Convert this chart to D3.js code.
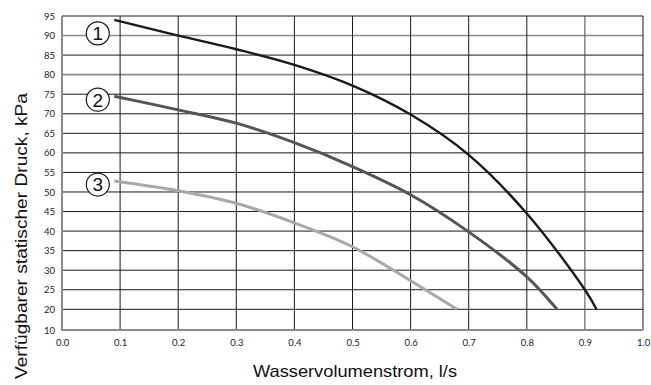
<!DOCTYPE html>
<html>
<head>
<meta charset="utf-8">
<script src="https://cdn.jsdelivr.net/npm/d3@7"></script>
<style>
  html, body { margin: 0; padding: 0; background: #fff; }
  svg { display: block; }
  .tick text { font-family: Lato, "Open Sans", sans-serif; font-size: 9.5px; fill: #222; }
  .title { font-family: "Liberation Sans", Arial, sans-serif; font-size: 17px; fill: #111; }
</style>
</head>
<body>
<svg id="chart" width="651" height="385"></svg>
<script>
// Pump curves: available static pressure vs. water flow
const flowTicks = [0.0, 0.1, 0.2, 0.3, 0.4, 0.5, 0.6, 0.7, 0.8, 0.9, 1.0];
const pressureTicks = [10, 20, 25, 30, 35, 40, 45, 50, 55, 60, 65, 70, 75, 80, 85, 90, 95];

const curve1Flow = [0.09, 0.2, 0.3, 0.4, 0.5, 0.6, 0.7, 0.8, 0.9, 0.92];
const curve1Pressure = [94, 90, 86.5, 82.5, 77.2, 69.8, 59.5, 44.5, 25, 20];

const curve2Flow = [0.09, 0.2, 0.3, 0.4, 0.5, 0.6, 0.7, 0.8, 0.852];
const curve2Pressure = [74.5, 71, 67.6, 62.6, 56.5, 49.3, 39.8, 28.3, 20];

const curve3Flow = [0.09, 0.2, 0.3, 0.4, 0.5, 0.6, 0.68];
const curve3Pressure = [52.8, 50.3, 47.1, 42.1, 36, 27.3, 20];

const curveLabels = ["1", "2", "3"];
const curveColors = ["#1a1a1a", "#555555", "#a8a8a8"];

const svg = d3.select("#chart");
const plotLeft = 62, plotRight = 643, plotTop = 16, plotBottom = 330;

const x = d3.scaleLinear().domain([0, 1]).range([plotLeft, plotRight]);
// The axis is broken below 20: the 10 mark sits one grid step under 20
const y = d3.scaleLinear().domain([10, 20, 95]).range([plotBottom, 309.3, plotTop]);

const grid = svg.append("g");
// horizontal grid lines
pressureTicks.filter(v => v > 10).forEach(v => {
  const grey = (v === 90 || v === 80);
  grid.append("line")
    .attr("x1", plotLeft).attr("x2", plotRight)
    .attr("y1", y(v)).attr("y2", y(v))
    .attr("stroke", grey ? "#8a8a8a" : "#1a1a1a")
    .attr("stroke-width", grey ? 1.6 : 1);
});
// vertical grid lines
flowTicks.filter(v => v > 0).forEach(v => {
  const grey = (v === 0.9);
  grid.append("line")
    .attr("x1", x(v)).attr("x2", x(v))
    .attr("y1", plotTop).attr("y2", plotBottom)
    .attr("stroke", grey ? "#555" : "#1a1a1a")
    .attr("stroke-width", grey ? 1.1 : 1);
});

// axes
const xAxis = d3.axisBottom(x).tickValues(flowTicks).tickFormat(d3.format(".1f")).tickSize(0).tickPadding(9);
const gx = svg.append("g").attr("transform", `translate(0,${plotBottom})`).call(xAxis);
gx.select(".domain").remove();

const yAxis = d3.axisLeft(y).tickValues(pressureTicks).tickFormat(d3.format("d")).tickSize(0).tickPadding(7);
const gy = svg.append("g").attr("transform", `translate(${plotLeft},0)`).call(yAxis);
gy.select(".domain").remove();

// frame: grey left and bottom axis lines
svg.append("line").attr("x1", plotLeft).attr("x2", plotLeft).attr("y1", plotTop).attr("y2", plotBottom + 1)
  .attr("stroke", "#8a8a8a").attr("stroke-width", 2);
svg.append("line").attr("x1", plotLeft).attr("x2", plotRight).attr("y1", plotBottom).attr("y2", plotBottom)
  .attr("stroke", "#8a8a8a").attr("stroke-width", 2);

// curves
const line = d3.line().x(d => x(d[0])).y(d => y(d[1])).curve(d3.curveCatmullRom.alpha(0.5));
const series = [
  d3.zip(curve1Flow, curve1Pressure),
  d3.zip(curve2Flow, curve2Pressure),
  d3.zip(curve3Flow, curve3Pressure)
];
series.forEach((pts, i) => {
  svg.append("path")
    .attr("d", line(pts))
    .attr("fill", "none")
    .attr("stroke", curveColors[i])
    .attr("stroke-width", i === 0 ? 2.4 : 3);
});

// curve number markers, placed just left of each curve start
series.forEach((pts, i) => {
  const cx = x(pts[0][0]) - 16.5;
  const cy = y(pts[0][1]) + (i === 0 ? 13.5 : 3.5);
  const g = svg.append("g").attr("transform", `translate(${cx},${cy})`);
  g.append("circle").attr("r", 11.5).attr("fill", "#fff").attr("stroke", "#1a1a1a").attr("stroke-width", 1.2);
  g.append("text").text(curveLabels[i])
    .attr("text-anchor", "middle").attr("dy", "0.36em")
    .attr("font-family", "Liberation Sans, Arial, sans-serif")
    .attr("font-size", 19).attr("fill", "#111");
});

// axis titles
svg.append("text").attr("class", "title")
  .attr("x", 355).attr("y", 377)
  .attr("text-anchor", "middle")
  .attr("textLength", 204).attr("lengthAdjust", "spacingAndGlyphs")
  .text("Wasservolumenstrom, l/s");
svg.append("text").attr("class", "title")
  .attr("transform", "translate(27,236) rotate(-90)")
  .attr("text-anchor", "middle")
  .attr("textLength", 286).attr("lengthAdjust", "spacingAndGlyphs")
  .text("Verfügbarer statischer Druck, kPa");
</script>
</body>
</html>
